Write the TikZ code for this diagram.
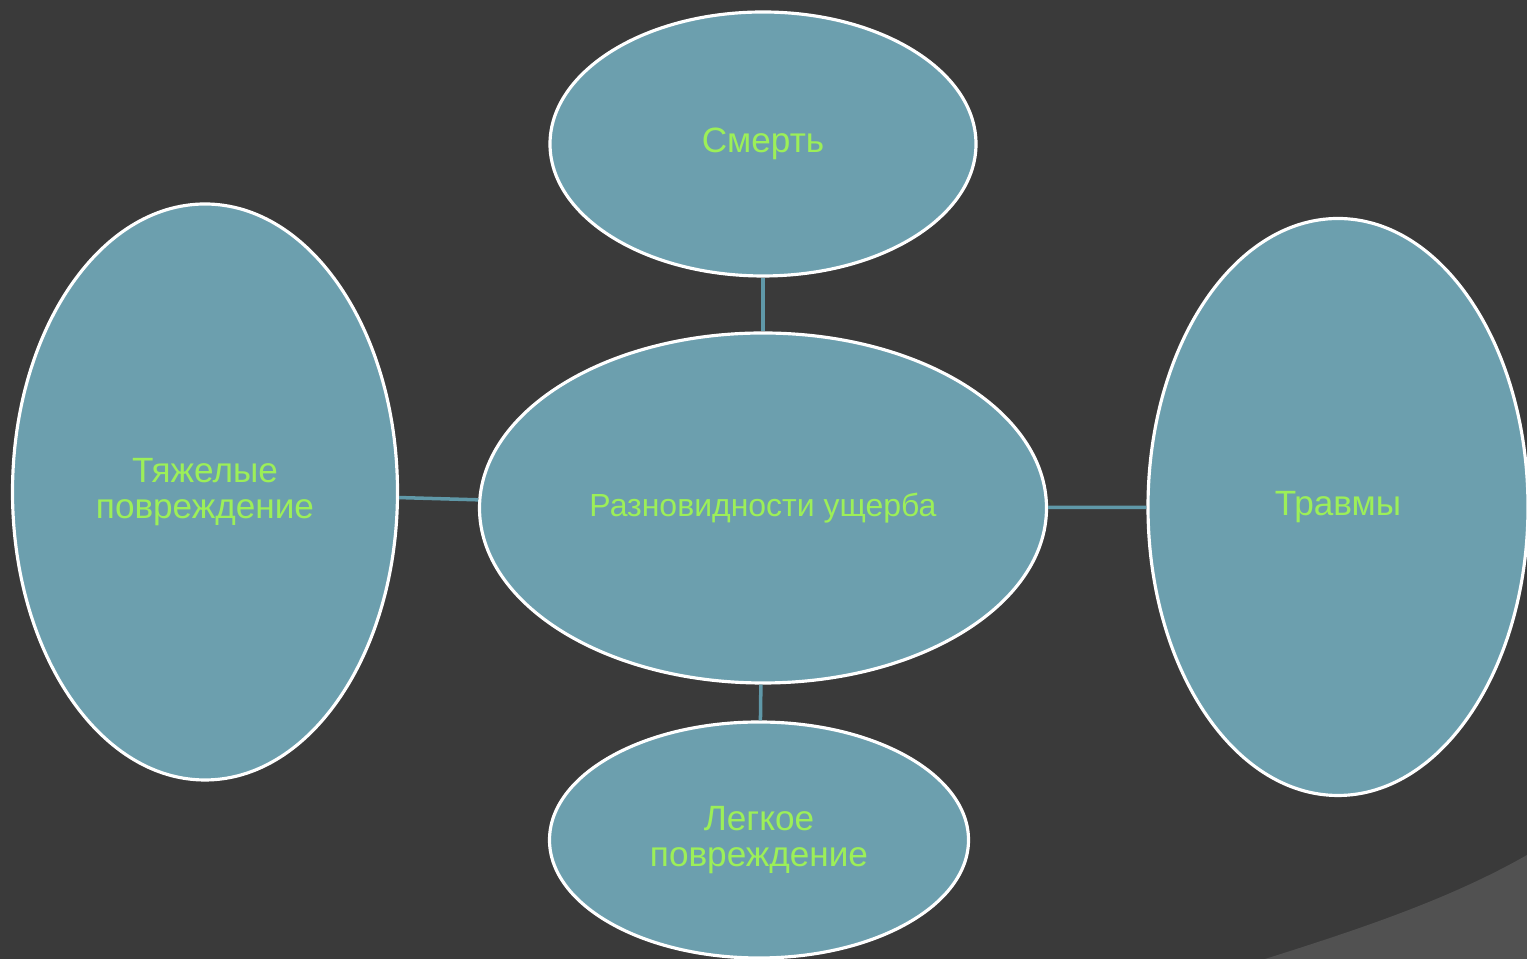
\documentclass[tikz,border=0pt]{standalone}
\usepackage{fontspec}
\setmainfont{Liberation Sans}
\usetikzlibrary{shapes.geometric}
\definecolor{bgdark}{HTML}{3A3A3A}
\definecolor{bgwedge}{HTML}{515151}
\definecolor{ovalfill}{HTML}{6C9FAE}
\definecolor{linkteal}{HTML}{5F98A8}
\definecolor{textgreen}{HTML}{9CEF58}
\tikzset{oval/.style={ellipse, draw=white, line width=0.9pt, fill=ovalfill, inner sep=0pt,
    text=textgreen, align=center, font=\fontsize{10}{10}\selectfont}}
\tikzset{link/.style={linkteal, line width=1pt}}

\begin{document}
\begin{tikzpicture}
	\useasboundingbox (0,0) rectangle (15.27,9.59);
	\fill[bgdark] (0,0) rectangle (15.27,9.59);
	\fill[bgwedge] (12.65,0) .. controls (13.6,0.3) and (14.5,0.6) .. (15.27,1.04) -- (15.27,0) -- cycle;
	% ovals
	\node[oval, minimum width=4.26cm, minimum height=2.64cm] (death) at (7.63,8.15) {Смерть};
	\node[oval, minimum width=5.67cm, minimum height=3.50cm, font=\fontsize{9.1}{9.1}\selectfont] (kinds) at (7.63,4.51) {Разновидности ущерба};
	\node[oval, minimum width=3.85cm, minimum height=5.76cm] (heavy) at (2.05,4.67) {Тяжелые\\повреждение};
	\node[oval, minimum width=3.80cm, minimum height=5.77cm] (trauma) at (13.38,4.52) {Травмы};
	\node[oval, minimum width=4.19cm, minimum height=2.36cm] (light) at (7.59,1.19) {Легкое\\повреждение};
	% links
	\draw[link] (death) -- (kinds);
	\draw[link] (heavy) -- (kinds);
	\draw[link] (kinds) -- (trauma);
	\draw[link] (kinds) -- (light);
\end{tikzpicture}
\end{document}
